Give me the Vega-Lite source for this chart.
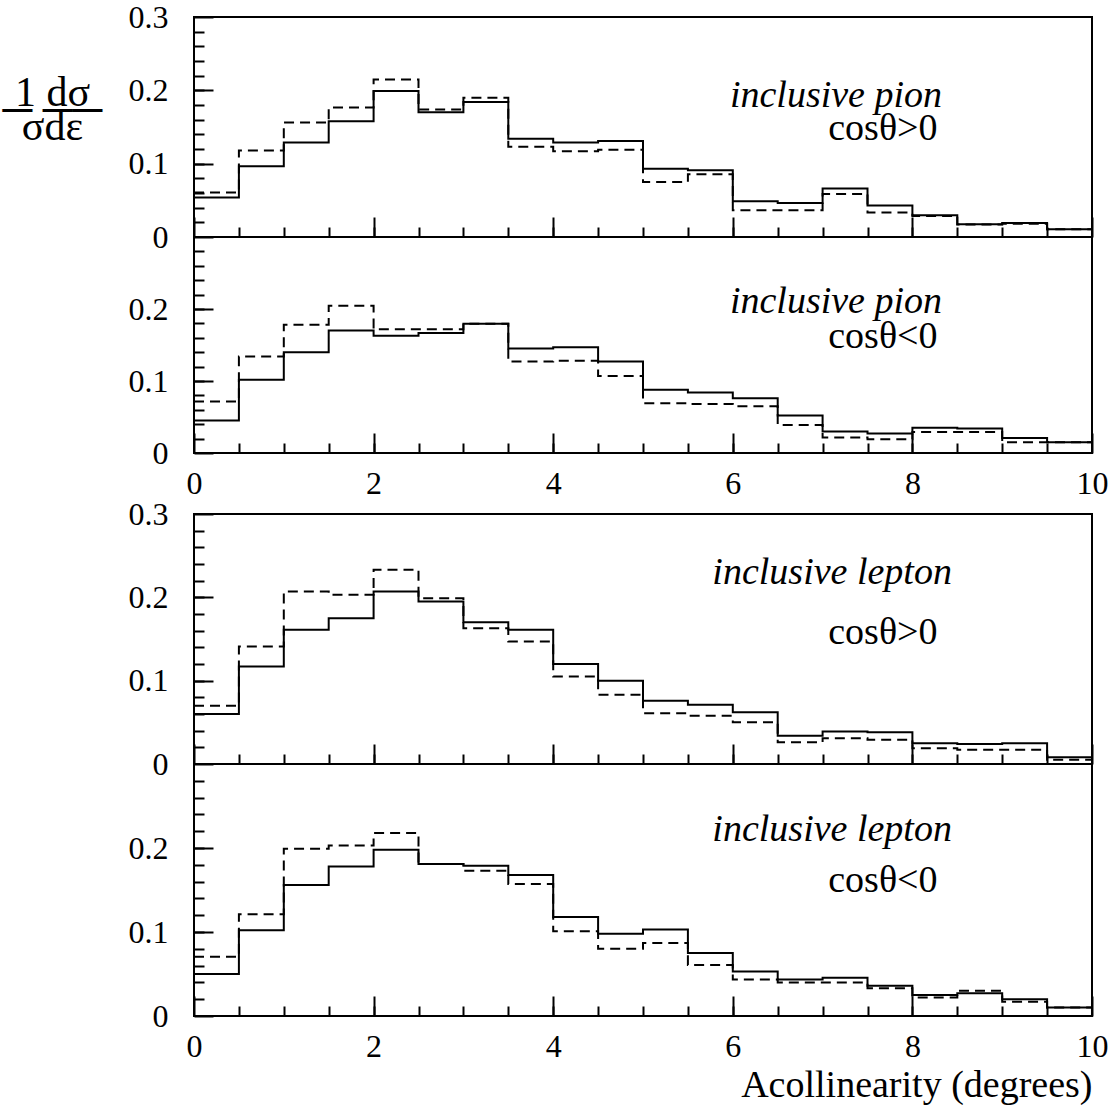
{
  "$schema": "https://vega.github.io/schema/vega-lite/v6.json",
  "background": "white",
  "padding": {"left": 1, "top": 0, "right": 0, "bottom": 0},
  "spacing": -3,
  "config": {
    "font": "Liberation Serif, Times New Roman, Times, DejaVu Serif, serif",
    "view": {"stroke": "black", "strokeWidth": 2},
    "text": {"font": "Liberation Serif, Times New Roman, Times, DejaVu Serif, serif"},
    "axis": {"domain": false, "grid": false, "labelFont": "Liberation Serif, Times New Roman, Times, DejaVu Serif, serif", "labelFontSize": 32, "labelColor": "black", "tickColor": "black", "tickWidth": 2, "titleFont": "Liberation Serif, Times New Roman, Times, DejaVu Serif, serif", "titleColor": "black", "titleFontWeight": "normal", "labelOverlap": false, "labelFlush": false, "labelBound": false}
  },
  "datasets": {
    "h": [
      {"p":1,"x":0,"a":0.054,"b":0.0606},{"p":1,"x":0.5,"a":0.0965,"b":0.118},{"p":1,"x":1,"a":0.129,"b":0.156},{"p":1,"x":1.5,"a":0.158,"b":0.1765},{"p":1,"x":2,"a":0.199,"b":0.2147},{"p":1,"x":2.5,"a":0.170,"b":0.174},{"p":1,"x":3,"a":0.184,"b":0.190},{"p":1,"x":3.5,"a":0.134,"b":0.123},{"p":1,"x":4,"a":0.129,"b":0.117},{"p":1,"x":4.5,"a":0.131,"b":0.119},{"p":1,"x":5,"a":0.093,"b":0.075},{"p":1,"x":5.5,"a":0.091,"b":0.0855},{"p":1,"x":6,"a":0.0487,"b":0.0364},{"p":1,"x":6.5,"a":0.0464,"b":0.0364},{"p":1,"x":7,"a":0.066,"b":0.0587},{"p":1,"x":7.5,"a":0.043,"b":0.0333},{"p":1,"x":8,"a":0.0296,"b":0.0287},{"p":1,"x":8.5,"a":0.0173,"b":0.017},{"p":1,"x":9,"a":0.019,"b":0.018},{"p":1,"x":9.5,"a":0.0105,"b":0.0105},{"p":1,"x":10,"a":0.0105,"b":0.0105},
      {"p":2,"x":0,"a":0.0453,"b":0.0717},{"p":2,"x":0.5,"a":0.1018,"b":0.134},{"p":2,"x":1,"a":0.140,"b":0.178},{"p":2,"x":1.5,"a":0.170,"b":0.2046},{"p":2,"x":2,"a":0.163,"b":0.172},{"p":2,"x":2.5,"a":0.1667,"b":0.172},{"p":2,"x":3,"a":0.1796,"b":0.1796},{"p":2,"x":3.5,"a":0.145,"b":0.127},{"p":2,"x":4,"a":0.147,"b":0.128},{"p":2,"x":4.5,"a":0.127,"b":0.107},{"p":2,"x":5,"a":0.088,"b":0.069},{"p":2,"x":5.5,"a":0.084,"b":0.068},{"p":2,"x":6,"a":0.076,"b":0.065},{"p":2,"x":6.5,"a":0.052,"b":0.039},{"p":2,"x":7,"a":0.030,"b":0.0217},{"p":2,"x":7.5,"a":0.027,"b":0.019},{"p":2,"x":8,"a":0.035,"b":0.029},{"p":2,"x":8.5,"a":0.034,"b":0.029},{"p":2,"x":9,"a":0.021,"b":0.015},{"p":2,"x":9.5,"a":0.015,"b":0.015},{"p":2,"x":10,"a":0.015,"b":0.015},
      {"p":3,"x":0,"a":0.060,"b":0.070},{"p":3,"x":0.5,"a":0.117,"b":0.141},{"p":3,"x":1,"a":0.161,"b":0.207},{"p":3,"x":1.5,"a":0.175,"b":0.203},{"p":3,"x":2,"a":0.207,"b":0.233},{"p":3,"x":2.5,"a":0.195,"b":0.199},{"p":3,"x":3,"a":0.170,"b":0.163},{"p":3,"x":3.5,"a":0.161,"b":0.147},{"p":3,"x":4,"a":0.120,"b":0.105},{"p":3,"x":4.5,"a":0.100,"b":0.083},{"p":3,"x":5,"a":0.076,"b":0.061},{"p":3,"x":5.5,"a":0.071,"b":0.058},{"p":3,"x":6,"a":0.062,"b":0.050},{"p":3,"x":6.5,"a":0.034,"b":0.026},{"p":3,"x":7,"a":0.039,"b":0.031},{"p":3,"x":7.5,"a":0.038,"b":0.029},{"p":3,"x":8,"a":0.025,"b":0.019},{"p":3,"x":8.5,"a":0.024,"b":0.017},{"p":3,"x":9,"a":0.025,"b":0.017},{"p":3,"x":9.5,"a":0.008,"b":0.005},{"p":3,"x":10,"a":0.008,"b":0.005},
      {"p":4,"x":0,"a":0.050,"b":0.0705},{"p":4,"x":0.5,"a":0.102,"b":0.121},{"p":4,"x":1,"a":0.156,"b":0.199},{"p":4,"x":1.5,"a":0.178,"b":0.203},{"p":4,"x":2,"a":0.198,"b":0.218},{"p":4,"x":2.5,"a":0.181,"b":0.181},{"p":4,"x":3,"a":0.179,"b":0.173},{"p":4,"x":3.5,"a":0.168,"b":0.157},{"p":4,"x":4,"a":0.118,"b":0.101},{"p":4,"x":4.5,"a":0.098,"b":0.080},{"p":4,"x":5,"a":0.103,"b":0.087},{"p":4,"x":5.5,"a":0.075,"b":0.0606},{"p":4,"x":6,"a":0.053,"b":0.0436},{"p":4,"x":6.5,"a":0.0436,"b":0.040},{"p":4,"x":7,"a":0.0456,"b":0.040},{"p":4,"x":7.5,"a":0.036,"b":0.033},{"p":4,"x":8,"a":0.025,"b":0.022},{"p":4,"x":8.5,"a":0.027,"b":0.030},{"p":4,"x":9,"a":0.020,"b":0.017},{"p":4,"x":9.5,"a":0.010,"b":0.010},{"p":4,"x":10,"a":0.010,"b":0.010}
    ],
    "t": [
      {"p":1,"x":8.33,"v":0.177,"txt":"inclusive pion","it":true},
      {"p":1,"x":8.28,"v":0.132,"txt":"cosθ>0","it":false},
      {"p":2,"x":8.33,"v":0.195,"txt":"inclusive pion","it":true},
      {"p":2,"x":8.28,"v":0.146,"txt":"cosθ<0","it":false},
      {"p":3,"x":8.44,"v":0.216,"txt":"inclusive lepton","it":true},
      {"p":3,"x":8.28,"v":0.144,"txt":"cosθ>0","it":false},
      {"p":4,"x":8.44,"v":0.208,"txt":"inclusive lepton","it":true},
      {"p":4,"x":8.28,"v":0.148,"txt":"cosθ<0","it":false}
    ]
  },
  "vconcat": [
    {
      "bounds": "flush", "spacing": 0,
      "vconcat": [
        {
          "width": 898, "height": 220,
          "layer": [
            {"data": {"name": "h"}, "transform": [{"filter": "datum.p == 1"}],
             "mark": {"type": "line", "interpolate": "step-after", "color": "black", "strokeWidth": 2},
             "encoding": {
               "x": {"field": "x", "type": "quantitative", "scale": {"domain": [0, 10], "nice": false, "zero": false}, "axis": {"orient": "bottom", "values": [0.5,1,1.5,2,2.5,3,3.5,4,4.5,5,5.5,6,6.5,7,7.5,8,8.5,9,9.5], "tickSize": -10, "labels": false, "title": null}},
               "y": {"field": "a", "type": "quantitative", "scale": {"domain": [0, 0.3], "nice": false}, "axis": {"orient": "left", "values": [0.02,0.04,0.06,0.08,0.1,0.12,0.14,0.16,0.18,0.2,0.22,0.24,0.26,0.28], "tickSize": -10, "labels": false, "title": null}}
             }},
            {"data": {"name": "h"}, "transform": [{"filter": "datum.p == 1"}],
             "mark": {"type": "line", "interpolate": "step-after", "color": "black", "strokeWidth": 2, "strokeDash": [10, 6]},
             "encoding": {
               "x": {"field": "x", "type": "quantitative", "scale": {"domain": [0, 10], "nice": false, "zero": false}, "axis": {"orient": "bottom", "values": [0,2,4,6,8,10], "tickSize": -20, "labels": false, "title": null}},
               "y": {"field": "b", "type": "quantitative", "scale": {"domain": [0, 0.3], "nice": false}, "axis": {"orient": "left", "values": [0,0.1,0.2,0.3], "tickSize": -19, "labelPadding": 45, "format": "~g",
                 "title": ["1 dσ", "─ ──", "σdε"], "titleAngle": 0, "titleAlign": "center", "titleBaseline": "alphabetic", "titleFontSize": 42, "titleLineHeight": 17, "titleX": -142, "titleY": 88}}
             }},
            {"data": {"name": "t"}, "transform": [{"filter": "datum.p == 1 && datum.it"}],
             "mark": {"type": "text", "align": "right", "baseline": "alphabetic", "font": "Liberation Serif, Times New Roman, Times, DejaVu Serif, serif", "fontSize": 38, "fontStyle": "italic", "color": "black"},
             "encoding": {"x": {"field": "x", "type": "quantitative", "scale": {"domain": [0, 10], "nice": false, "zero": false}, "axis": null}, "y": {"field": "v", "type": "quantitative", "scale": {"domain": [0, 0.3], "nice": false}, "axis": null}, "text": {"field": "txt"}}},
            {"data": {"name": "t"}, "transform": [{"filter": "datum.p == 1 && !datum.it"}],
             "mark": {"type": "text", "align": "right", "baseline": "alphabetic", "font": "Liberation Serif, Times New Roman, Times, DejaVu Serif, serif", "fontSize": 38, "color": "black"},
             "encoding": {"x": {"field": "x", "type": "quantitative", "scale": {"domain": [0, 10], "nice": false, "zero": false}, "axis": null}, "y": {"field": "v", "type": "quantitative", "scale": {"domain": [0, 0.3], "nice": false}, "axis": null}, "text": {"field": "txt"}}}
          ],
          "resolve": {"axis": {"x": "independent", "y": "independent"}}
        },
        {
          "width": 898, "height": 216,
          "layer": [
            {"data": {"name": "h"}, "transform": [{"filter": "datum.p == 2"}],
             "mark": {"type": "line", "interpolate": "step-after", "color": "black", "strokeWidth": 2},
             "encoding": {
               "x": {"field": "x", "type": "quantitative", "scale": {"domain": [0, 10], "nice": false, "zero": false}, "axis": {"orient": "bottom", "values": [0.5,1,1.5,2,2.5,3,3.5,4,4.5,5,5.5,6,6.5,7,7.5,8,8.5,9,9.5], "tickSize": -10, "labels": false, "title": null}},
               "y": {"field": "a", "type": "quantitative", "scale": {"domain": [0, 0.3], "nice": false}, "axis": {"orient": "left", "values": [0.02,0.04,0.06,0.08,0.1,0.12,0.14,0.16,0.18,0.2,0.22,0.24,0.26,0.28], "tickSize": -10, "labels": false, "title": null}}
             }},
            {"data": {"name": "h"}, "transform": [{"filter": "datum.p == 2"}],
             "mark": {"type": "line", "interpolate": "step-after", "color": "black", "strokeWidth": 2, "strokeDash": [10, 6]},
             "encoding": {
               "x": {"field": "x", "type": "quantitative", "scale": {"domain": [0, 10], "nice": false, "zero": false}, "axis": {"orient": "bottom", "values": [0,2,4,6,8,10], "tickSize": -20, "labelPadding": 35, "format": "d", "title": null}},
               "y": {"field": "b", "type": "quantitative", "scale": {"domain": [0, 0.3], "nice": false}, "axis": {"orient": "left", "values": [0,0.1,0.2], "tickSize": -19, "labelPadding": 45, "format": "~g", "title": null}}
             }},
            {"data": {"name": "t"}, "transform": [{"filter": "datum.p == 2 && datum.it"}],
             "mark": {"type": "text", "align": "right", "baseline": "alphabetic", "font": "Liberation Serif, Times New Roman, Times, DejaVu Serif, serif", "fontSize": 38, "fontStyle": "italic", "color": "black"},
             "encoding": {"x": {"field": "x", "type": "quantitative", "scale": {"domain": [0, 10], "nice": false, "zero": false}, "axis": null}, "y": {"field": "v", "type": "quantitative", "scale": {"domain": [0, 0.3], "nice": false}, "axis": null}, "text": {"field": "txt"}}},
            {"data": {"name": "t"}, "transform": [{"filter": "datum.p == 2 && !datum.it"}],
             "mark": {"type": "text", "align": "right", "baseline": "alphabetic", "font": "Liberation Serif, Times New Roman, Times, DejaVu Serif, serif", "fontSize": 38, "color": "black"},
             "encoding": {"x": {"field": "x", "type": "quantitative", "scale": {"domain": [0, 10], "nice": false, "zero": false}, "axis": null}, "y": {"field": "v", "type": "quantitative", "scale": {"domain": [0, 0.3], "nice": false}, "axis": null}, "text": {"field": "txt"}}}
          ],
          "resolve": {"axis": {"x": "independent", "y": "independent"}}
        }
      ]
    },
    {
      "bounds": "flush", "spacing": 0,
      "vconcat": [
        {
          "width": 898, "height": 250,
          "layer": [
            {"data": {"name": "h"}, "transform": [{"filter": "datum.p == 3"}],
             "mark": {"type": "line", "interpolate": "step-after", "color": "black", "strokeWidth": 2},
             "encoding": {
               "x": {"field": "x", "type": "quantitative", "scale": {"domain": [0, 10], "nice": false, "zero": false}, "axis": {"orient": "bottom", "values": [0.5,1,1.5,2,2.5,3,3.5,4,4.5,5,5.5,6,6.5,7,7.5,8,8.5,9,9.5], "tickSize": -10, "labels": false, "title": null}},
               "y": {"field": "a", "type": "quantitative", "scale": {"domain": [0, 0.3], "nice": false}, "axis": {"orient": "left", "values": [0.02,0.04,0.06,0.08,0.1,0.12,0.14,0.16,0.18,0.2,0.22,0.24,0.26,0.28], "tickSize": -10, "labels": false, "title": null}}
             }},
            {"data": {"name": "h"}, "transform": [{"filter": "datum.p == 3"}],
             "mark": {"type": "line", "interpolate": "step-after", "color": "black", "strokeWidth": 2, "strokeDash": [10, 6]},
             "encoding": {
               "x": {"field": "x", "type": "quantitative", "scale": {"domain": [0, 10], "nice": false, "zero": false}, "axis": {"orient": "bottom", "values": [0,2,4,6,8,10], "tickSize": -20, "labels": false, "title": null}},
               "y": {"field": "b", "type": "quantitative", "scale": {"domain": [0, 0.3], "nice": false}, "axis": {"orient": "left", "values": [0,0.1,0.2,0.3], "tickSize": -19, "labelPadding": 45, "format": "~g", "title": null}}
             }},
            {"data": {"name": "t"}, "transform": [{"filter": "datum.p == 3 && datum.it"}],
             "mark": {"type": "text", "align": "right", "baseline": "alphabetic", "font": "Liberation Serif, Times New Roman, Times, DejaVu Serif, serif", "fontSize": 38, "fontStyle": "italic", "color": "black"},
             "encoding": {"x": {"field": "x", "type": "quantitative", "scale": {"domain": [0, 10], "nice": false, "zero": false}, "axis": null}, "y": {"field": "v", "type": "quantitative", "scale": {"domain": [0, 0.3], "nice": false}, "axis": null}, "text": {"field": "txt"}}},
            {"data": {"name": "t"}, "transform": [{"filter": "datum.p == 3 && !datum.it"}],
             "mark": {"type": "text", "align": "right", "baseline": "alphabetic", "font": "Liberation Serif, Times New Roman, Times, DejaVu Serif, serif", "fontSize": 38, "color": "black"},
             "encoding": {"x": {"field": "x", "type": "quantitative", "scale": {"domain": [0, 10], "nice": false, "zero": false}, "axis": null}, "y": {"field": "v", "type": "quantitative", "scale": {"domain": [0, 0.3], "nice": false}, "axis": null}, "text": {"field": "txt"}}}
          ],
          "resolve": {"axis": {"x": "independent", "y": "independent"}}
        },
        {
          "width": 898, "height": 252,
          "layer": [
            {"data": {"name": "h"}, "transform": [{"filter": "datum.p == 4"}],
             "mark": {"type": "line", "interpolate": "step-after", "color": "black", "strokeWidth": 2},
             "encoding": {
               "x": {"field": "x", "type": "quantitative", "scale": {"domain": [0, 10], "nice": false, "zero": false}, "axis": {"orient": "bottom", "values": [0.5,1,1.5,2,2.5,3,3.5,4,4.5,5,5.5,6,6.5,7,7.5,8,8.5,9,9.5], "tickSize": -10, "labels": false, "title": null}},
               "y": {"field": "a", "type": "quantitative", "scale": {"domain": [0, 0.3], "nice": false}, "axis": {"orient": "left", "values": [0.02,0.04,0.06,0.08,0.1,0.12,0.14,0.16,0.18,0.2,0.22,0.24,0.26,0.28], "tickSize": -10, "labels": false, "title": null}}
             }},
            {"data": {"name": "h"}, "transform": [{"filter": "datum.p == 4"}],
             "mark": {"type": "line", "interpolate": "step-after", "color": "black", "strokeWidth": 2, "strokeDash": [10, 6]},
             "encoding": {
               "x": {"field": "x", "type": "quantitative", "scale": {"domain": [0, 10], "nice": false, "zero": false}, "axis": {"orient": "bottom", "values": [0,2,4,6,8,10], "tickSize": -20, "labelPadding": 35, "format": "d", "title": "Acollinearity (degrees)", "titleFontSize": 38, "titleAnchor": "end", "titlePadding": 4}},
               "y": {"field": "b", "type": "quantitative", "scale": {"domain": [0, 0.3], "nice": false}, "axis": {"orient": "left", "values": [0,0.1,0.2], "tickSize": -19, "labelPadding": 45, "format": "~g", "title": null}}
             }},
            {"data": {"name": "t"}, "transform": [{"filter": "datum.p == 4 && datum.it"}],
             "mark": {"type": "text", "align": "right", "baseline": "alphabetic", "font": "Liberation Serif, Times New Roman, Times, DejaVu Serif, serif", "fontSize": 38, "fontStyle": "italic", "color": "black"},
             "encoding": {"x": {"field": "x", "type": "quantitative", "scale": {"domain": [0, 10], "nice": false, "zero": false}, "axis": null}, "y": {"field": "v", "type": "quantitative", "scale": {"domain": [0, 0.3], "nice": false}, "axis": null}, "text": {"field": "txt"}}},
            {"data": {"name": "t"}, "transform": [{"filter": "datum.p == 4 && !datum.it"}],
             "mark": {"type": "text", "align": "right", "baseline": "alphabetic", "font": "Liberation Serif, Times New Roman, Times, DejaVu Serif, serif", "fontSize": 38, "color": "black"},
             "encoding": {"x": {"field": "x", "type": "quantitative", "scale": {"domain": [0, 10], "nice": false, "zero": false}, "axis": null}, "y": {"field": "v", "type": "quantitative", "scale": {"domain": [0, 0.3], "nice": false}, "axis": null}, "text": {"field": "txt"}}}
          ],
          "resolve": {"axis": {"x": "independent", "y": "independent"}}
        }
      ]
    }
  ]
}
